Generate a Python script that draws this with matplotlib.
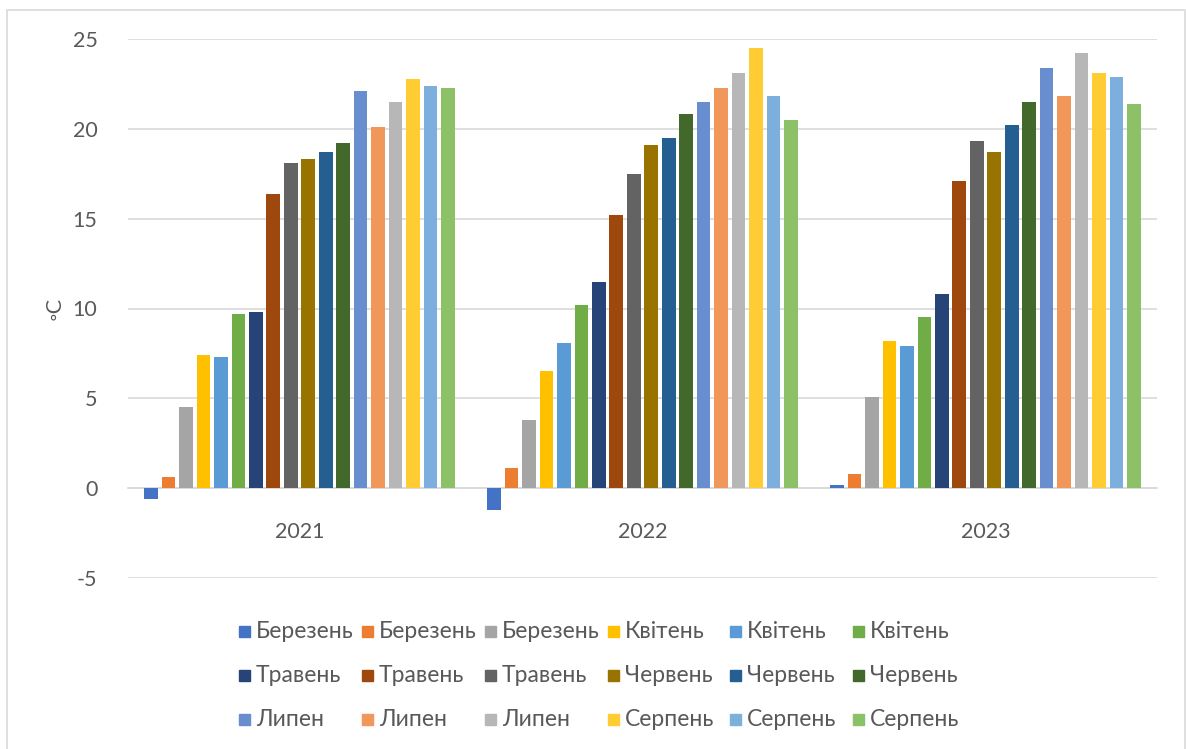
import matplotlib
matplotlib.use("Agg")
import matplotlib.pyplot as plt
from matplotlib.patches import Rectangle
import numpy as np

plt.rcParams['font.family'] = ['Lato', 'DejaVu Sans']
plt.rcParams['axes.unicode_minus'] = False

years = ['2021', '2022', '2023']
months = ['Березень', 'Березень', 'Березень', 'Квітень', 'Квітень', 'Квітень',
          'Травень', 'Травень', 'Травень', 'Червень', 'Червень', 'Червень',
          'Липен', 'Липен', 'Липен', 'Серпень', 'Серпень', 'Серпень']

# temperature per series, one value per year (2021, 2022, 2023)
temps = [
    [-0.6, -1.2, 0.2],
    [0.6, 1.1, 0.8],
    [4.5, 3.8, 5.1],
    [7.4, 6.5, 8.2],
    [7.3, 8.1, 7.9],
    [9.7, 10.2, 9.5],
    [9.8, 11.5, 10.8],
    [16.4, 15.2, 17.1],
    [18.1, 17.5, 19.3],
    [18.3, 19.1, 18.7],
    [18.7, 19.5, 20.2],
    [19.2, 20.8, 21.5],
    [22.1, 21.5, 23.4],
    [20.1, 22.3, 21.8],
    [21.5, 23.1, 24.2],
    [22.8, 24.5, 23.1],
    [22.4, 21.8, 22.9],
    [22.3, 20.5, 21.4],
]

colors = ['#4472C4', '#ED7D31', '#A5A5A5', '#FFC000', '#5B9BD5', '#70AD47',
          '#264478', '#9E480E', '#636363', '#997300', '#255E91', '#43682B',
          '#698ED0', '#F1975A', '#B7B7B7', '#FFCD33', '#7CAFDD', '#8CC168']

W, H = 1186, 749
fig = plt.figure(figsize=(W / 100, H / 100), dpi=100)
ax = fig.add_axes([128 / W, 1 - 578 / H, (1157 - 128) / W, (578 - 39) / H])

x = np.arange(len(years))
n = len(months)
pitch = 0.0509
bw = 0.040
for i in range(n):
    off = (i - (n - 1) / 2) * pitch
    ax.bar(x + off, temps[i], width=bw, color=colors[i], zorder=3)

ax.set_xlim(-0.5, 2.5)
ax.set_ylim(-5, 25)
ax.set_yticks(np.arange(-5, 26, 5))
ax.set_xticks(x)
ax.set_xticklabels(years)
ax.grid(axis='y', color='#D9D9D9', linewidth=1.2, zorder=0)
for s in ['top', 'right', 'left']:
    ax.spines[s].set_visible(False)
ax.spines['bottom'].set_position(('data', 0))
ax.spines['bottom'].set_color('#D9D9D9')
ax.spines['bottom'].set_linewidth(1.2)
ax.spines['bottom'].set_zorder(1)
ax.tick_params(axis='both', length=0, labelsize=15.5, labelcolor='#595959')
ax.tick_params(axis='y', pad=22)
ax.tick_params(axis='x', pad=24)
ax.set_ylabel('◦C', fontsize=15.5, color='#595959', labelpad=6)

# legend, Excel-style uniform grid
col_x = [239, 362, 485, 608, 730, 853]
row_y = [631, 675, 719]
for i in range(n):
    r, c = divmod(i, 6)
    px, py = col_x[c], row_y[r]
    fig.patches.append(Rectangle((px / W, 1 - (py + 5.5) / H), 11 / W, 11 / H,
                                 transform=fig.transFigure, color=colors[i]))
    fig.text((px + 17) / W, 1 - py / H, months[i], fontsize=16.5, color='#595959',
             va='center', ha='left')

# chart border
fig.patches.append(Rectangle((7 / W, -0.01), (1185 - 7) / W, 1 - 10 / H + 0.01,
                             transform=fig.transFigure, fill=False,
                             edgecolor='#D9D9D9', linewidth=1.2))

fig.savefig('out.png', dpi=100)
